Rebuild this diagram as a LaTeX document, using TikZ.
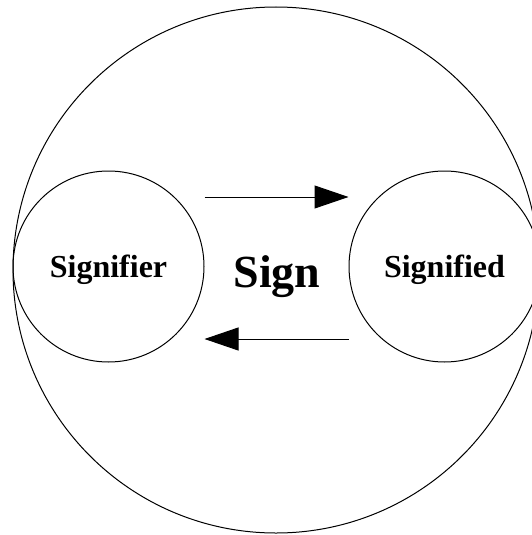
\documentclass[tikz,border=0pt]{standalone}
\usepackage{fontspec}
\setmainfont{Liberation Serif}
\usetikzlibrary{arrows.meta}
\tikzset{
  ring/.style={circle, draw=black, line width=1pt, inner sep=0pt, text depth=0pt, font=\bfseries\fontsize{32}{36}\selectfont},
  bigring/.style={circle, draw=black, line width=1pt, inner sep=0pt, minimum size=526pt},
  flow/.style={line width=1pt, -{Triangle[length=34pt,width=23pt]}}
}
\begin{document}
\begin{tikzpicture}[x=1pt,y=-1pt]
\useasboundingbox (0,0) rectangle (532,535);
\clip (0,0) rectangle (532,535);
\node[bigring] (sign) at (276,270) {};
\node[anchor=base, font=\bfseries\fontsize{46}{50}\selectfont] (signtext) at (277,287) {Sign};
\node[ring, minimum size=191pt] (L) at (108.5,266.5) {Signifier};
\node[ring, minimum size=191pt] (R) at (444.5,266.5) {Signified};
\coordinate (ytop) at (0,197);
\coordinate (ybot) at (0,339);
\draw[flow] (L.east |- ytop) -- (R.west |- ytop);
\draw[flow] (R.west |- ybot) -- (L.east |- ybot);
\end{tikzpicture}
\end{document}
